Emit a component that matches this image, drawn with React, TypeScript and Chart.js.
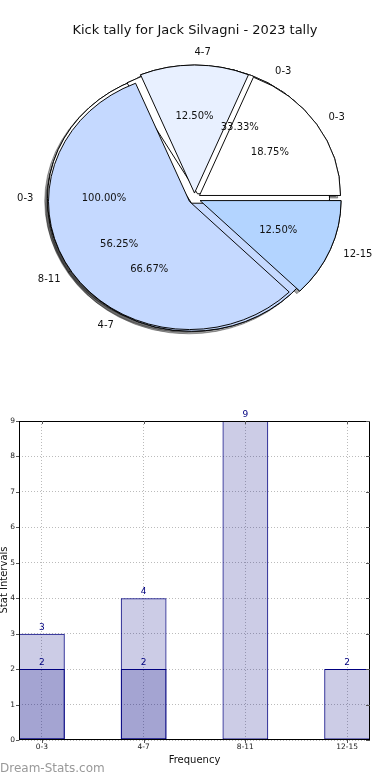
import React, { useEffect, useRef } from 'react';
import { Chart, registerables } from 'chart.js';

Chart.register(...registerables);

// ---------------- data ----------------
const chartTitle = 'Kick tally for Jack Silvagni - 2023 tally';

const pieALabels = ['0-3', '4-7', '8-11', '12-15'];
const pieAValues = [3, 2, 9, 2];
const pieBLabels = ['0-3', '4-7'];
const pieBValues = [1, 2];
const pieCLabels = ['0-3'];
const pieCValues = [1];

const barCategories = ['0-3', '4-7', '8-11', '12-15'];
const barTotals = [3, 4, 9, 2];
const barParts = [2, 2, null, null];
const yTickValues = [0, 1, 2, 3, 4, 5, 6, 7, 8, 9];

const xAxisTitle = 'Frequency';
const yAxisTitle = 'Stat Intervals';
const watermark = 'Dream-Stats.com';

// ---------------- styles ----------------
const FONT = '"DejaVu Sans", "Liberation Sans", sans-serif';
const pieAColors = ['#ffffff', '#e8f0ff', '#c5d9ff', '#b3d4ff'];
const pieBColors = ['#ffffff', '#c5d9ff'];
const pieCColors = ['#ffffff'];
const PIE_R = 141;
const PIE_SY = 0.908;
const EXPLODE = 6;
const SHADOW = 'rgba(0,0,0,0.35)';

type Pie = { labels: string[]; values: number[]; colors: string[]; seam: number };
const pies: Pie[] = [
  { labels: pieALabels, values: pieAValues, colors: pieAColors, seam: 0 },
  { labels: pieBLabels, values: pieBValues, colors: pieBColors, seam: 0 },
  { labels: pieCLabels, values: pieCValues, colors: pieCColors, seam: 213.75 },
];

function wedges(values: number[]) {
  const total = values.reduce((a, b) => a + b, 0);
  let cum = 0;
  return values.map((v) => {
    const t1 = (cum / total) * 360;
    cum += v;
    const t2 = (cum / total) * 360;
    return { mid: ((t1 + t2) / 2) * (Math.PI / 180), frac: v / total };
  });
}

function center(chart: any) {
  const a = chart.chartArea;
  return { cx: (a.left + a.right) / 2, cy: (a.top + a.bottom) / 2 };
}

const piePlugin = {
  id: 'mplPie',
  afterDatasetsUpdate(chart: any) {
    const { cx, cy } = center(chart);
    pies.forEach((p, d) => {
      const meta = chart.getDatasetMeta(d);
      const w = wedges(p.values);
      const n = p.values.length;
      meta.data.forEach((arc: any, k: number) => {
        const wd = w[n - 1 - k];
        arc.x = cx + Math.cos(wd.mid) * EXPLODE;
        arc.y = cy - Math.sin(wd.mid) * EXPLODE;
        arc.outerRadius = PIE_R;
        arc.innerRadius = 0;
      });
    });
  },
  beforeDatasetsDraw(chart: any) {
    const { ctx } = chart;
    const { cx, cy } = center(chart);
    ctx.save();
    ctx.translate(cx, cy);
    ctx.scale(1, PIE_SY);
    ctx.translate(-cx, -cy);
    ctx.save();
    ctx.shadowColor = SHADOW;
    ctx.shadowOffsetX = -2.8;
    ctx.shadowOffsetY = 2.6;
    ctx.shadowBlur = 0;
    for (let d = pies.length - 1; d >= 0; d--) {
      chart.getDatasetMeta(d).data.forEach((arc: any) => arc.draw(ctx));
    }
    ctx.restore();
  },
  afterDatasetsDraw(chart: any) {
    chart.ctx.restore();
  },
  afterDraw(chart: any) {
    const { ctx } = chart;
    const { cx, cy } = center(chart);
    ctx.save();
    ctx.fillStyle = '#111';
    ctx.font = `13px ${FONT}`;
    ctx.textAlign = 'center';
    ctx.textBaseline = 'alphabetic';
    ctx.fillText(chartTitle, 195, 34);
    ctx.font = `10px ${FONT}`;
    ctx.textBaseline = 'middle';
    pies.forEach((p) => {
      const w = wedges(p.values);
      w.forEach((wd, i) => {
        const c = Math.cos(wd.mid);
        const s = Math.sin(wd.mid);
        const lx = c * (EXPLODE + 1.1 * PIE_R);
        const ly = -s * (EXPLODE + 1.1 * PIE_R) * PIE_SY;
        ctx.textAlign = lx > 0 ? 'left' : 'right';
        ctx.fillText(p.labels[i], cx + lx, cy + ly);
        const px = c * (EXPLODE + 0.6 * PIE_R);
        const py = -s * (EXPLODE + 0.6 * PIE_R) * PIE_SY;
        ctx.textAlign = 'center';
        ctx.fillText((wd.frac * 100).toFixed(2) + '%', cx + px, cy + py);
      });
    });
    ctx.restore();
  },
};

const barPlugin = {
  id: 'mplBar',
  afterDatasetsDraw(chart: any) {
    const { ctx } = chart;
    ctx.save();
    ctx.font = `9px ${FONT}`;
    ctx.fillStyle = '#000080';
    ctx.textAlign = 'center';
    ctx.textBaseline = 'bottom';
    chart.data.datasets.forEach((ds: any, i: number) => {
      const meta = chart.getDatasetMeta(i);
      meta.data.forEach((bar: any, j: number) => {
        const pt = ds.data[j];
        if (!pt || pt.y == null) return;
        ctx.fillText(String(pt.y), bar.x, bar.y - 2);
      });
    });
    ctx.restore();
  },
  afterDraw(chart: any) {
    const { ctx, chartArea: a } = chart;
    const xs = chart.scales.x;
    const ys = chart.scales.y;
    ctx.save();
    ctx.strokeStyle = '#000';
    ctx.lineWidth = 1;
    ctx.strokeRect(Math.round(a.left) + 0.5, Math.round(a.top) + 0.5, Math.round(a.right - a.left) - 1, Math.round(a.bottom - a.top) - 1);
    ctx.strokeStyle = '#555';
    ctx.beginPath();
    yTickValues.forEach((v) => {
      const y = Math.round(ys.getPixelForValue(v)) + 0.5;
      ctx.moveTo(a.left - 3, y);
      ctx.lineTo(a.left, y);
      ctx.moveTo(a.right - 4, y);
      ctx.lineTo(a.right, y);
    });
    barCategories.forEach((_, i) => {
      const x = Math.round(xs.getPixelForValue(i)) + 0.5;
      ctx.moveTo(x, a.top);
      ctx.lineTo(x, a.top + 3);
      ctx.moveTo(x, a.bottom);
      ctx.lineTo(x, a.bottom + 3);
    });
    ctx.stroke();

    ctx.fillStyle = '#111';
    ctx.font = `10px ${FONT}`;
    ctx.textAlign = 'center';
    ctx.textBaseline = 'middle';
    ctx.fillText(xAxisTitle, (a.left + a.right) / 2, 370);
    ctx.save();
    ctx.translate(7, 190);
    ctx.rotate(-Math.PI / 2);
    ctx.textBaseline = 'alphabetic';
    ctx.fillText(yAxisTitle, 0, 0);
    ctx.restore();

    ctx.fillStyle = '#999';
    ctx.font = `12px ${FONT}`;
    ctx.textAlign = 'left';
    ctx.textBaseline = 'alphabetic';
    ctx.fillText(watermark, 0, 382);
    ctx.restore();
  },
};

export default function App() {
  const pieRef = useRef<HTMLCanvasElement>(null);
  const barRef = useRef<HTMLCanvasElement>(null);

  useEffect(() => {
    Chart.defaults.font.family = FONT;
    const pieChart = new Chart(pieRef.current as HTMLCanvasElement, {
      type: 'pie',
      data: {
        labels: pieALabels,
        datasets: pies.map((p) => ({
          data: [...p.values].reverse(),
          backgroundColor: [...p.colors].reverse(),
          borderColor: '#000000',
          borderWidth: 1,
          borderJoinStyle: 'miter',
          rotation: 450 - p.seam,
          radius: PIE_R,
        })) as any,
      },
      options: {
        responsive: false,
        animation: false,
        devicePixelRatio: 1,
        events: [],
        layout: { padding: { left: 0, right: 1, top: 7, bottom: 0 } },
        plugins: { legend: { display: false }, tooltip: { enabled: false }, title: { display: false } },
      } as any,
      plugins: [piePlugin],
    });

    const barChart = new Chart(barRef.current as HTMLCanvasElement, {
      type: 'bar',
      data: {
        datasets: [
          {
            data: barTotals.map((v, i) => ({ x: i, y: v })),
            backgroundColor: 'rgba(0,0,128,0.2)',
            borderColor: '#000080',
            borderWidth: 1,
            borderSkipped: false,
            grouped: false,
            barPercentage: 0.45,
            categoryPercentage: 1,
          },
          {
            data: barParts.map((v, i) => (v == null ? null : { x: i, y: v })).filter((d) => d !== null),
            backgroundColor: 'rgba(0,0,128,0.2)',
            borderColor: '#000080',
            borderWidth: 1,
            borderSkipped: false,
            grouped: false,
            barPercentage: 0.45,
            categoryPercentage: 1,
          },
        ] as any,
      },
      options: {
        responsive: false,
        animation: false,
        devicePixelRatio: 1,
        events: [],
        layout: { padding: { left: 0, right: 20, top: 31, bottom: 0 } },
        plugins: { legend: { display: false }, tooltip: { enabled: false } },
        scales: {
          x: {
            type: 'linear',
            offset: false,
            min: -0.225,
            max: 3.225,
            afterBuildTicks: (axis: any) => {
              axis.ticks = barCategories.map((_, i) => ({ value: i }));
            },
            afterFit: (axis: any) => {
              axis.height = 40;
            },
            ticks: {
              autoSkip: false,
              maxRotation: 0,
              padding: 3,
              color: '#222',
              font: { size: 7.5 },
              callback: (v: any) => barCategories[v] ?? '',
            },
            grid: { color: '#bbbbbb', drawTicks: false, lineWidth: 1, offset: false },
            border: { display: false, dash: [1, 2] },
          },
          y: {
            min: 0,
            max: 9,
            afterBuildTicks: (axis: any) => {
              axis.ticks = yTickValues.map((v) => ({ value: v }));
            },
            afterFit: (axis: any) => {
              axis.width = 19;
            },
            ticks: { padding: 4, color: '#222', font: { size: 7.5 } },
            grid: { color: '#bbbbbb', drawTicks: false, lineWidth: 1 },
            border: { display: false, dash: [1, 2] },
          },
        },
      } as any,
      plugins: [barPlugin],
    });

    return () => {
      pieChart.destroy();
      barChart.destroy();
    };
  }, []);

  return (
    <div style={{ position: 'absolute', left: 0, top: 0, width: 390, height: 780, background: '#fff', overflow: 'hidden' }}>
      <canvas ref={pieRef} width={390} height={390} style={{ position: 'absolute', left: 0, top: 0, width: 390, height: 390 }} />
      <canvas ref={barRef} width={390} height={390} style={{ position: 'absolute', left: 0, top: 390, width: 390, height: 390 }} />
    </div>
  );
}
